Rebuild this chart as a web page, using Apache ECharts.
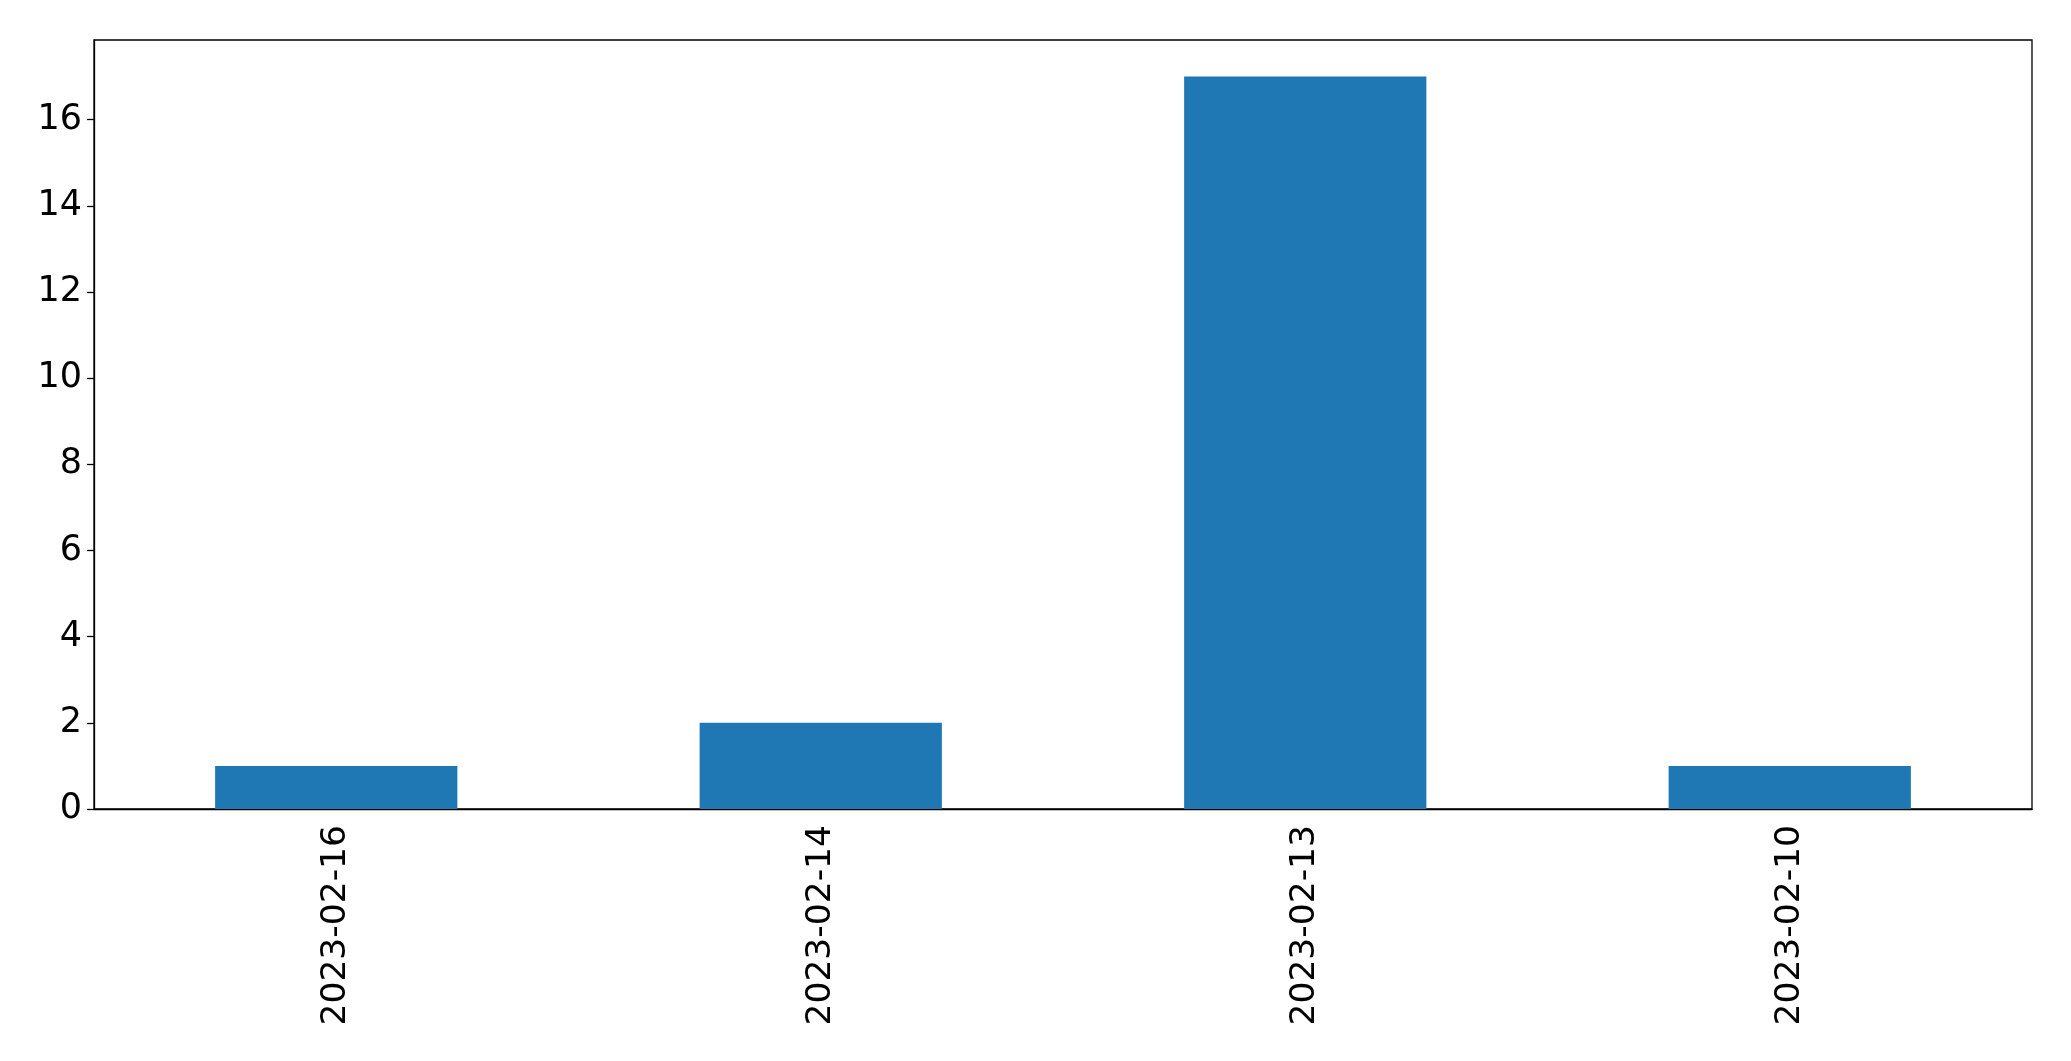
<!DOCTYPE html>
<html>
<head>
<meta charset="utf-8">
<script src="https://cdn.jsdelivr.net/npm/echarts@6/dist/echarts.min.js"></script>
<style>
html,body{margin:0;padding:0;background:#fff;}
#c{width:2071px;height:1061px;}
</style>
</head>
<body>
<div id="c"></div>
<script>
const categories = ["2023-02-16", "2023-02-14", "2023-02-13", "2023-02-10"];
const values = [1, 2, 17, 1];

const chart = echarts.init(document.getElementById('c'), null, {renderer: 'canvas'});
const font = '"DejaVu Sans", sans-serif';
chart.setOption({
  animation: false,
  backgroundColor: '#fff',
  grid: {left: 94, right: 39, top: 40, bottom: 252, show: true, borderColor: '#000', borderWidth: 1.3, backgroundColor: 'transparent'},
  xAxis: {
    type: 'category',
    data: categories,
    axisLine: {lineStyle: {color: '#000', width: 1.3}},
    axisTick: {alignWithLabel: true, length: 7, lineStyle: {color: '#000', width: 1.3}},
    axisLabel: {rotate: 90, color: '#000', fontSize: 34.5, fontFamily: font, margin: 16, interval: 0}
  },
  yAxis: {
    type: 'value',
    min: 0, max: 17.85, interval: 2,
    splitLine: {show: false},
    axisLine: {show: true, lineStyle: {color: '#000', width: 1.3}},
    axisTick: {show: true, length: 7, lineStyle: {color: '#000', width: 1.3}},
    axisLabel: {color: '#000', fontSize: 35, fontFamily: font, margin: 12, showMaxLabel: false,
      formatter: v => (Math.abs(v - Math.round(v)) < 1e-9 ? String(v) : '')}
  },
  series: [{
    type: 'bar',
    data: values,
    barWidth: '50%',
    itemStyle: {color: '#1f77b4'}
  }]
});
</script>
</body>
</html>
